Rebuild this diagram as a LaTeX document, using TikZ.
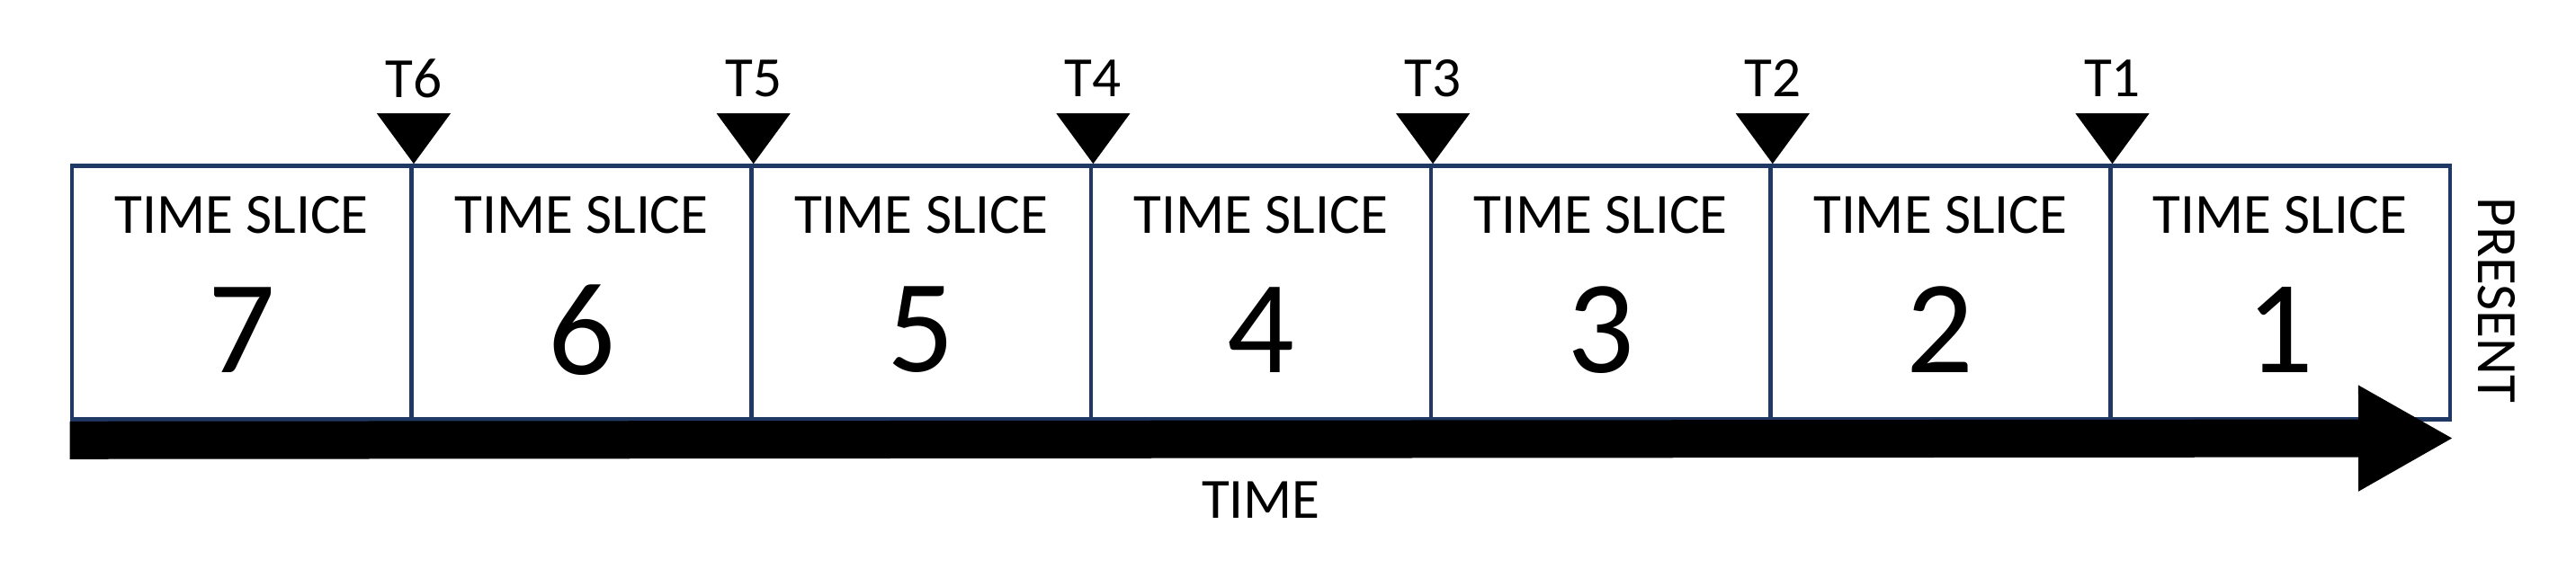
\documentclass[tikz,border=0pt]{standalone}
\usepackage{fontspec}
\setmainfont{Carlito}
\usetikzlibrary{arrows.meta}
\definecolor{slicenavy}{HTML}{203864}
\tikzset{
	slicebox/.style={draw=slicenavy, line width=1.3pt, minimum width=3.777cm, minimum height=2.82cm, inner sep=0pt},
	slicetitle/.style={font=\fontsize{18}{18}\selectfont, inner sep=0pt},
	slicenumber/.style={font=\fontsize{42}{42}\selectfont, inner sep=0pt},
	ticklabel/.style={font=\fontsize{18}{18}\selectfont, inner sep=0pt},
	tickmark/.style={fill=black},
	timearrow/.style={line width=0.42cm, -{Triangle[length=1.06cm,width=1.10cm]}},
}
\begin{document}
\begin{tikzpicture}
	\useasboundingbox (0,0) rectangle (28.64,6.32);
	\foreach \n [count=\i from 0] in {7,...,1} {
		\node (slice\n) [slicebox] at (0.80+3.777*\i+1.8885,3.065) {};
		\node (title\n) [slicetitle] at ([yshift=-0.57cm]slice\n.north) {TIME SLICE};
		\node (number\n) [slicenumber] at ([yshift=1.02cm]slice\n.south) {\n};
	}
	\foreach \n/\t in {7/6,6/5,5/4,4/3,3/2,2/1} {
		\fill [tickmark] (slice\n.north east) -- ++(-0.41,0.56) -- ++(0.82,0) -- cycle;
		\node (tick\t) [ticklabel] at ([yshift=0.95cm]slice\n.north east) {T\t};
	}
	\coordinate (past) at ([yshift=-0.21cm]slice7.south west);
	\coordinate (present) at (27.28,1.445);
	\draw [timearrow] (past) -- (present);
	\node (timelabel) [ticklabel] at (14.02,0.76) {TIME};
	\node (presentlabel) [ticklabel, rotate=-90] at (27.76,2.98) {PRESENT};
\end{tikzpicture}
\end{document}
